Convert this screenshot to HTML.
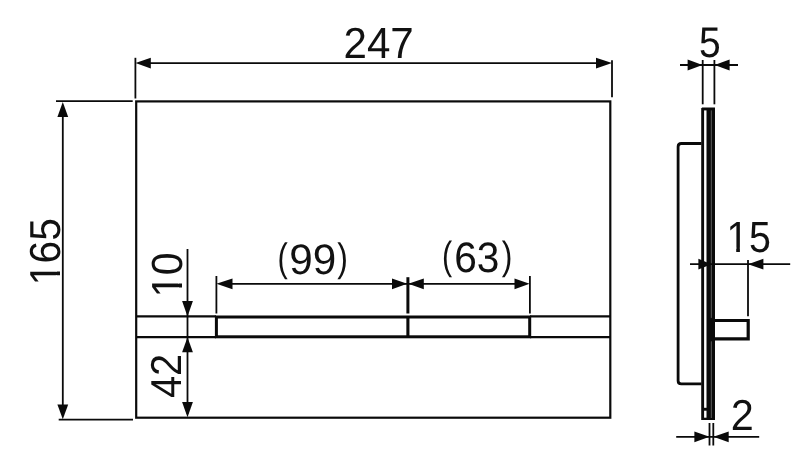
<!DOCTYPE html>
<html>
<head>
<meta charset="utf-8">
<title>Drawing</title>
<style>
html,body{margin:0;padding:0;background:#fff;}
body{width:800px;height:472px;overflow:hidden;}
svg{display:block;filter:grayscale(1) blur(0.45px);}
text{font-family:"Liberation Sans",sans-serif;fill:#111;text-rendering:geometricPrecision;}
</style>
</head>
<body>
<svg width="800" height="472" viewBox="0 0 800 472">
<rect width="800" height="472" fill="#fff"/>
<g fill="none" stroke="#0a0a0a" stroke-linecap="butt">
  <!-- main plate front view -->
  <rect x="136.2" y="101.4" width="474.1" height="316.3" stroke-width="2.2"/>
  <!-- strip lines -->
  <line x1="136" y1="316.4" x2="216" y2="316.4" stroke-width="2.2"/>
  <line x1="136" y1="337.1" x2="216" y2="337.1" stroke-width="2.2"/>
  <line x1="530" y1="316.4" x2="610" y2="316.4" stroke-width="2.2"/>
  <line x1="530" y1="337.1" x2="610" y2="337.1" stroke-width="2.2"/>
  <!-- button -->
  <rect x="216.4" y="317" width="313.3" height="19.8" stroke-width="3"/>
  <line x1="407.9" y1="316" x2="407.9" y2="337" stroke-width="3.1"/>
  <!-- 247 dim -->
  <g stroke-width="1.8">
  <line x1="135.4" y1="57.8" x2="135.4" y2="98.5"/>
  <line x1="612" y1="60.2" x2="612" y2="97.3"/>
  <line x1="140" y1="63.1" x2="607" y2="63.1"/>
  <!-- 165 dim -->
  <line x1="56" y1="101.1" x2="132.7" y2="101.1"/>
  <line x1="58.7" y1="419.7" x2="133" y2="419.7"/>
  <line x1="62.8" y1="106" x2="62.8" y2="415"/>
  <!-- 10 / 42 dim -->
  <line x1="187.5" y1="249" x2="187.5" y2="414"/>
  <!-- 99 / 63 dim -->
  <line x1="216.4" y1="276" x2="216.4" y2="313.5"/>
  <line x1="529.9" y1="276" x2="529.9" y2="313.5"/>
  <line x1="220" y1="283.8" x2="526" y2="283.8"/>
  </g>
  <line x1="407.9" y1="277.2" x2="407.9" y2="313.5" stroke-width="3"/>
</g>
<g fill="#0a0a0a" stroke="none">
  <!-- arrowheads -->
  <polygon points="135.5,63.1 150.8,57.7 150.8,68.5"/>
  <polygon points="612,63.1 596,57.7 596,68.5"/>
  <polygon points="62.8,102 57.4,117 68.2,117"/>
  <polygon points="62.8,419.2 57.4,404.5 68.2,404.5"/>
  <polygon points="187.5,316.4 182.1,301 192.9,301"/>
  <polygon points="187.5,337.3 182.1,352.3 192.9,352.3"/>
  <polygon points="187.5,417.2 182.1,402 192.9,402"/>
  <polygon points="216.4,283.8 232.5,278.4 232.5,289.2"/>
  <polygon points="407.2,283.8 392,278.4 392,289.2"/>
  <polygon points="408.4,283.8 423.8,278.4 423.8,289.2"/>
  <polygon points="529.6,283.8 514.5,278.4 514.5,289.2"/>
</g>
<!-- side view -->
<g fill="none" stroke="#0a0a0a">
  <!-- back box -->
  <path d="M701.5,143.5 H681.3 Q678.1,143.5 678.1,146.7 V380.7 Q678.1,383.9 681.3,383.9 H701.5" stroke-width="2.8"/>
  <!-- button protrusion -->
  <path d="M713,320.5 H748.2 V338.9 H713" stroke-width="3.2"/>
</g>
<g fill="#0a0a0a">
  <!-- plate -->
  <path d="M701.2,108.6 L702.2,107.6 H715 V420 H701.2 Z"/>
  <rect x="704.1" y="110.4" width="2.4" height="297.4" fill="#fff"/>
  <rect x="704.1" y="410.7" width="2.4" height="7" fill="#fff"/>
  <rect x="710.8" y="110.4" width="1.1" height="207.5" fill="#555"/>
  <rect x="710.8" y="341.3" width="1.1" height="76.7" fill="#555"/>
</g>
<g fill="none" stroke="#0a0a0a" stroke-width="1.8">
  <!-- 5 dim -->
  <line x1="702.7" y1="60" x2="702.7" y2="104.3"/>
  <line x1="714.4" y1="60" x2="714.4" y2="104.3"/>
  <line x1="680" y1="65" x2="738" y2="65"/>
  <!-- 15 dim -->
  <line x1="690" y1="264.2" x2="790.2" y2="264.2"/>
  <line x1="748" y1="260" x2="748" y2="316.2"/>
  <!-- 2 dim -->
  <line x1="709.5" y1="423" x2="709.5" y2="445.5"/>
  <line x1="713.3" y1="423" x2="713.3" y2="445.5"/>
  <line x1="676.2" y1="436.8" x2="759.2" y2="436.8"/>
</g>
<g fill="#0a0a0a">
  <polygon points="702.5,65 687.6,59.6 687.6,70.4"/>
  <polygon points="714.6,65 729.6,59.6 729.6,70.4"/>
  <polygon points="711.3,264.2 698.4,258.8 698.4,269.6"/>
  <polygon points="748.1,264.2 763.4,258.8 763.4,269.6"/>
  <polygon points="709.5,436.8 694.4,431.4 694.4,442.2"/>
  <polygon points="713.4,436.8 728.7,431.4 728.7,442.2"/>
</g>
<!-- labels -->
<defs><clipPath id="nofoot"><path clip-rule="evenodd" d="M-5,-45H80V15H-5Z M2.3,-3.9H9.95V1H2.3Z M13.7,-3.9H21V1H13.7Z"/></clipPath></defs>
<g font-size="40">
  <text id="t247" transform="translate(343.49,58.30) scale(1.0534,1.0870)">247</text>
  <text id="t5" transform="translate(699.02,56.90) scale(0.9737,1.0726)">5</text>
  <text id="t2" transform="translate(730.63,430.30) scale(1.0356,1.0834)">2</text>
  <text id="t42" transform="translate(181.30,397.97) rotate(-90) scale(0.9922,1.0798)">42</text>
  <text id="t99" transform="translate(289.32,273.70) scale(1.0552,1.0690)"><tspan x="-11.23" y="-2.59" font-size="37.07" textLength="9.74" lengthAdjust="spacingAndGlyphs">(</tspan><tspan x="0" y="0">99</tspan><tspan x="45.47" y="-2.59" font-size="37.07" textLength="10.10" lengthAdjust="spacingAndGlyphs">)</tspan></text>
  <text id="t63" transform="translate(454.27,271.80) scale(1.0160,1.0619)"><tspan x="-11.98" y="-2.31" font-size="37.21" textLength="9.99" lengthAdjust="spacingAndGlyphs">(</tspan><tspan x="0" y="0">63</tspan><tspan x="46.79" y="-2.31" font-size="37.21" textLength="10.49" lengthAdjust="spacingAndGlyphs">)</tspan></text>
  <text id="t15" clip-path="url(#nofoot)" transform="translate(726.42,251.89) scale(0.9842,1.0942)"><tspan x="0" y="0">1</tspan><tspan x="22.84" y="0">5</tspan></text>
  <text id="t165" clip-path="url(#nofoot)" transform="translate(60.09,285.38) rotate(-90) scale(1.0184,1.0832)"><tspan x="0" y="0">1</tspan><tspan x="21.55" y="0">65</tspan></text>
  <text id="t10" clip-path="url(#nofoot)" transform="translate(182.19,297.60) rotate(-90) scale(1.0263,1.0867)"><tspan x="0" y="0">1</tspan><tspan x="21.86" y="0">0</tspan></text>
</g>
</svg>
</body>
</html>
